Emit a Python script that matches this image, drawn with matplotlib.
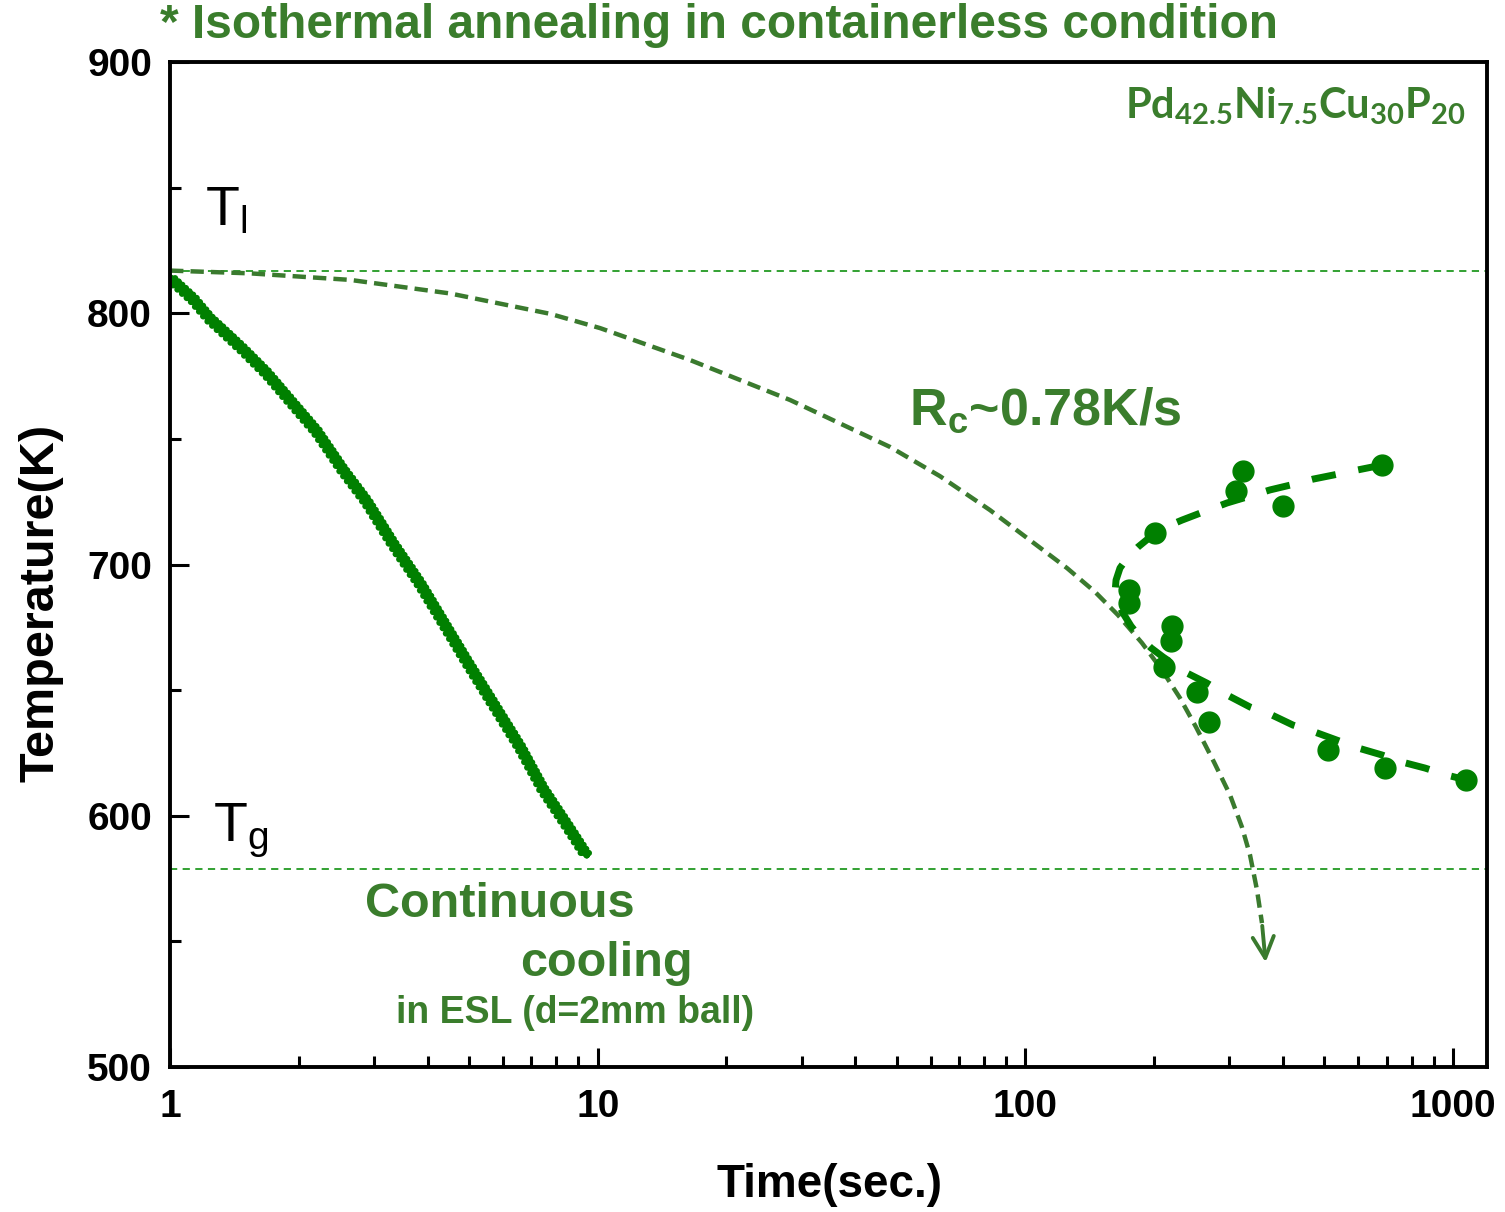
import numpy as np
import matplotlib
matplotlib.use("Agg")
import matplotlib.pyplot as plt
import matplotlib.patheffects as pe
from matplotlib.ticker import MultipleLocator, FixedLocator, NullFormatter

# ============================
# data
# ============================
T_LIQUIDUS = 817
T_GLASS = 579

# continuous cooling curve in ESL
cool_t = [1.0, 1.134, 1.240, 1.357, 1.484, 1.683, 1.943, 2.203, 2.542, 2.884,
          3.328, 3.842, 4.355, 4.940, 5.700, 6.581, 7.461, 8.464, 9.427]
cool_T = [814.2, 805.7, 797.9, 791.8, 785.6, 776.3, 763.9, 753.1, 737.6, 725.2,
          708.2, 692.6, 677.2, 661.7, 644.7, 627.6, 610.6, 596.6, 584.3]

# critical cooling rate curve (Rc ~ 0.78 K/s)
rc_t = [1.0, 1.538, 2.636, 4.515, 7.735, 10.13, 16.44, 28.16, 48.25, 63.1, 82.6,
        102.5, 125.1, 145.5, 164.6, 187.3, 208.6, 229.8, 250.6, 276.0, 300.9,
        320.9, 335.1, 347.9, 357.4]
rc_T = [817.0, 815.9, 813.3, 807.9, 799.8, 794.1, 781.4, 765.5, 746.8, 735.2, 721.7,
        709.7, 698.6, 689.1, 679.9, 668.8, 658.0, 646.9, 635.3, 621.4, 608.3,
        595.5, 584.4, 570.5, 557.3]
rc_arrow_tip = (365.0, 540.6)

# isothermal annealing onset points
iso_t = [322, 311, 681, 401, 201, 175, 175, 220, 219, 211, 251.5, 268, 511, 693, 1072]
iso_T = [737.3, 729.3, 739.5, 723.3, 712.4, 689.9, 684.6, 675.5, 669.6, 659.3,
         649.4, 637.2, 626.2, 619.1, 614.2]

# TTT nose fit, both branches start at the nose
up_t = [162.0, 162.9, 166.4, 173.7, 183.4, 195.6, 209.8, 232.4, 260.2, 296.0,
        329.8, 373.2, 415.6, 470.5, 523.9, 596.2, 682.0]
up_T = [688.7, 693.8, 698.6, 703.0, 707.0, 710.9, 714.5, 717.7, 720.9, 724.5,
        726.9, 729.7, 731.6, 734.0, 735.6, 737.6, 739.6]
low_t = [162.0, 164.6, 169.1, 176.6, 185.3, 196.7, 209.8, 236.2, 265.8, 296.0,
         335.1, 377.2, 422.4, 475.5, 535.3, 599.4, 682.0, 759.6, 859.8, 967.6, 1077.7]
low_T = [688.7, 684.7, 680.7, 675.5, 671.1, 666.8, 663.2, 657.2, 652.8, 648.1,
         643.3, 640.1, 636.1, 633.3, 630.1, 627.0, 624.2, 621.4, 619.0, 616.2, 614.2]

x_ticks = [1, 10, 100, 1000]
x_tick_labels = ["1", "10", "100", "1000"]

# ============================
# style
# ============================
plt.rcParams['mathtext.default'] = 'regular'
GREEN = '#008000'
TXT_GREEN = '#3a7d2c'
RC_GREEN = '#3a7a2e'
LINE_GREEN = '#229a22'
SANS = ['Liberation Sans', 'DejaVu Sans']

fig = plt.figure(figsize=(15.05, 12.12), dpi=100)
ax = fig.add_axes([0.1130, 0.1196, 0.8750, 0.8292])

# reference lines
ax.axhline(T_LIQUIDUS, color=LINE_GREEN, lw=1.3, ls=(0, (4, 3)))
ax.axhline(T_GLASS, color=LINE_GREEN, lw=1.3, ls=(0, (4, 3)))

# Rc curve + arrow
ax.plot(rc_t, rc_T, color=RC_GREEN, lw=3.2, ls=(0, (3, 1.6)))
ax.annotate('', xy=rc_arrow_tip, xytext=(rc_t[-1], rc_T[-1]),
            arrowprops=dict(arrowstyle='->', color=RC_GREEN, lw=2.8, mutation_scale=38))

# continuous cooling (serrated look)
ax.plot(cool_t, cool_T, color=GREEN, lw=4.6, solid_capstyle='round',
        path_effects=[pe.withTickedStroke(spacing=3.5, angle=60, length=0.7),
                      pe.withTickedStroke(spacing=4.5, angle=-120, length=0.7),
                      pe.Normal()])

# fit curve (one C shape) and points
c_t = up_t[::-1] + low_t[1:]
c_T = up_T[::-1] + low_T[1:]
ax.plot(c_t, c_T, color=GREEN, lw=5, ls=(0, (3.5, 3.3)))
ax.plot(iso_t, iso_T, 'o', color=GREEN, ms=15, mec=GREEN)

# axes
ax.set_xscale('log')
ax.set_xlim(1, 1200)
ax.set_ylim(500, 900)
ax.xaxis.set_major_locator(FixedLocator(x_ticks))
ax.set_xticklabels(x_tick_labels)
ax.xaxis.set_minor_locator(FixedLocator([m * d for d in [1, 10, 100] for m in range(2, 10)]))
ax.xaxis.set_minor_formatter(NullFormatter())
ax.yaxis.set_major_locator(MultipleLocator(100))
ax.yaxis.set_minor_locator(MultipleLocator(50))

for s in ax.spines.values():
    s.set_linewidth(2.8)
ax.tick_params(which='major', direction='in', length=14, width=2.2)
ax.tick_params(which='minor', direction='in', length=8, width=2.2)
ax.tick_params(axis='y', which='major', pad=13)
ax.tick_params(axis='x', which='major', pad=16)
for lab in ax.get_xticklabels() + ax.get_yticklabels():
    lab.set_fontfamily(SANS)
    lab.set_fontweight('bold')
    lab.set_fontsize(28)

ax.set_xlabel('Time(sec.)', fontsize=33, fontweight='bold', family=SANS)
ax.set_ylabel('Temperature(K)', fontsize=35, fontweight='bold', family=SANS)
ax.xaxis.set_label_coords(0.5004, -0.1174)
ax.xaxis.label.set_va('center')
ax.yaxis.set_label_coords(-0.098, 0.4617)
ax.yaxis.label.set_va('center')

# annotations
ax.text(1.207, 835, 'T$_l$', fontsize=40, family=SANS, va='baseline', ha='left')
ax.text(1.26, 590, 'T$_g$', fontsize=40, family=SANS, va='baseline', ha='left')
ax.text(1072, 877.7, 'Pd$_{42.5}$Ni$_{7.5}$Cu$_{30}$P$_{20}$', fontsize=30, fontweight='bold',
        family=['Lato', 'Open Sans', 'DejaVu Sans'], color=TXT_GREEN, ha='right', va='baseline')
ax.text(53.5, 755.5, 'R$_c$~0.78K/s', fontsize=37.5, fontweight='bold', family=SANS,
        color=TXT_GREEN, ha='left', va='baseline')
ax.text(5.9, 564.5, 'Continuous', fontsize=35, fontweight='bold', family=SANS,
        color=TXT_GREEN, ha='center', va='center')
ax.text(10.5, 541.4, 'cooling', fontsize=35, fontweight='bold', family=SANS,
        color=TXT_GREEN, ha='center', va='center')
ax.text(8.86, 521.5, 'in ESL (d=2mm ball)', fontsize=27, fontweight='bold', family=SANS,
        color=TXT_GREEN, ha='center', va='center')

fig.text(0.1063, 0.979, '* Isothermal annealing in containerless condition', fontsize=34.5,
         fontweight='bold', family=SANS, color=TXT_GREEN, ha='left', va='center')

fig.savefig('out.png', dpi=100)
